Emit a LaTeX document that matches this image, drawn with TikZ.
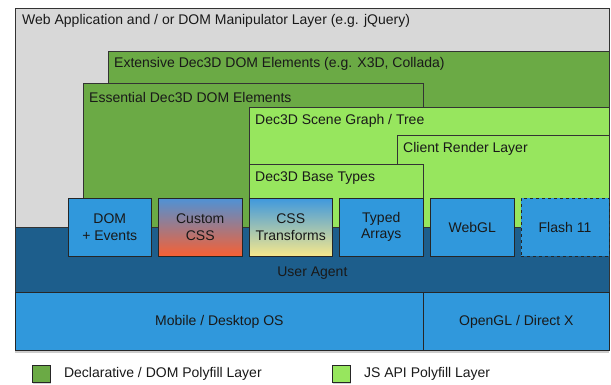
\documentclass[tikz,border=0pt]{standalone}
\usepackage{fontspec}
\setmainfont{Liberation Sans}
\usetikzlibrary{positioning,shadows}

\definecolor{appgray}{RGB}{216,216,216}
\definecolor{decgreen}{RGB}{107,170,69}
\definecolor{jsgreen}{RGB}{151,230,94}
\definecolor{apiblue}{RGB}{48,152,220}
\definecolor{uablue}{RGB}{29,94,140}
\definecolor{textdark}{RGB}{25,25,25}

\begin{document}
\begin{tikzpicture}[x=1pt,y=-1pt]
\useasboundingbox (0,0) rectangle (611,384);

% definitions
\tikzstyle{layer} = [rectangle, anchor=north west, draw=black!80, line width=0.8pt, inner sep=0pt]

\tikzstyle{tag} = [anchor=west, inner sep=0pt, text=textdark, font=\fontsize{14}{16.5}\selectfont]

\tikzstyle{api} = [rectangle, minimum width=83.5pt, minimum height=58pt, text centered, draw=black!85, fill=apiblue, line width=0.8pt, outer sep=0pt, align=center, text=textdark, font=\fontsize{14}{16.5}\selectfont]

\tikzstyle{base} = [rectangle, anchor=north west, minimum height=58pt, text centered, draw=black!85, fill=apiblue, line width=0.8pt, text=textdark, font=\fontsize{14}{16.5}\selectfont]

\tikzstyle{keybox} = [rectangle, minimum width=18pt, minimum height=17pt, draw=black!85, line width=0.8pt, drop shadow={shadow xshift=0pt, shadow yshift=-1.5pt, opacity=0.35}]

% the layers
\node (app) [layer, fill=appgray, minimum width=594pt, minimum height=342pt, drop shadow={shadow xshift=0pt, shadow yshift=-2.5pt, opacity=0.4}] at (15,8) {};
\node [tag] at ([xshift=7pt, yshift=-12.5pt]app.north west) {Web Application and / or DOM Manipulator Layer (e.g. jQuery)};

\node (ext) [layer, fill=decgreen, minimum width=501pt, minimum height=176pt] at (108,51) {};
\node [tag] at ([xshift=6pt, yshift=-13pt]ext.north west) {Extensive Dec3D DOM Elements (e.g. X3D, Collada)};

\node (ess) [layer, fill=decgreen, minimum width=340pt, minimum height=144pt] at (83,83) {};
\node [tag] at ([xshift=6pt, yshift=-14pt]ess.north west) {Essential Dec3D DOM Elements};

\node (scene) [layer, fill=jsgreen, minimum width=360pt, minimum height=120pt] at (249,107) {};
\node [tag] at ([xshift=6pt, yshift=-13.5pt]scene.north west) {Dec3D Scene Graph / Tree};

\node (render) [layer, fill=jsgreen, minimum width=212pt, minimum height=92pt] at (397,135) {};
\node [tag] at ([xshift=6pt, yshift=-14pt]render.north west) {Client Render Layer};

\node (types) [layer, fill=jsgreen, minimum width=174pt, minimum height=63pt] at (249,164) {};
\node [tag] at ([xshift=6pt, yshift=-14pt]types.north west) {Dec3D Base Types};

\node (ua) [layer, fill=uablue, minimum width=594pt, minimum height=65pt] at (15,227) {};
\node [tag, anchor=center] at ([yshift=20pt]ua.south) {User Agent};

\node (os) [base, minimum width=408pt] at (15,292) {Mobile / Desktop OS};
\node (gl) [base, minimum width=186pt] at (423,292) {OpenGL / Direct X};

% the browser apis
\node (dom) [api] at (109.75,227) {DOM\\+ Events};
\node (css) [api, right=7pt of dom, top color={rgb,255:red,78;green,146;blue,214}, bottom color={rgb,255:red,246;green,96;blue,52}] {Custom\\CSS};
\node (trans) [api, right=7pt of css, top color={rgb,255:red,62;green,152;blue,222}, bottom color={rgb,255:red,246;green,232;blue,140}] {CSS\\Transforms};
\node (typed) [api, right=7pt of trans] {Typed\\Arrays};
\node (webgl) [api, right=7.5pt of typed] {WebGL};
\node (flash) [api, right=7pt of webgl, minimum width=88pt, dashed] {Flash 11};

% the key
\node (key1) [keybox, fill=decgreen] at (41.5,373.5) {};
\node [tag, right=13pt of key1] {Declarative / DOM Polyfill Layer};

\node (key2) [keybox, fill=jsgreen] at (341.5,373.5) {};
\node [tag, right=13pt of key2] {JS API Polyfill Layer};

\end{tikzpicture}
\end{document}
